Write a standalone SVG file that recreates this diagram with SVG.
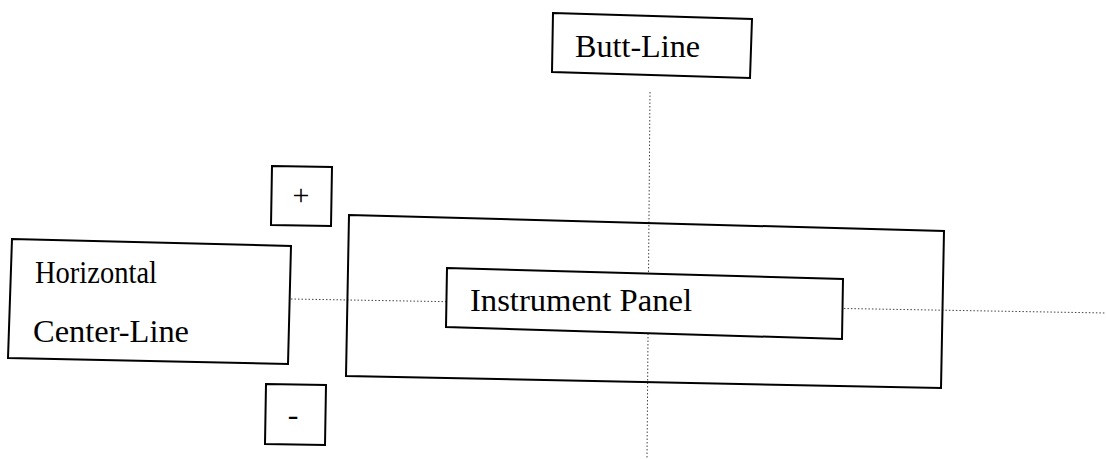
<svg xmlns="http://www.w3.org/2000/svg" width="1106" height="459" viewBox="0 0 1106 459">
<style>
.box{fill:none;stroke:#000;stroke-width:2}
.fbox{fill:#fff;stroke:#000;stroke-width:2}
.dot{stroke:#444;stroke-width:1;stroke-dasharray:1.5 2;fill:none}
.t{font-family:"Liberation Serif","Times New Roman",serif;font-size:31px;fill:#000}
</style>
<rect width="1106" height="459" fill="#fff"/>
<g id="connectors">
<line class="dot" x1="650" y1="92" x2="647" y2="459"/>
<line class="dot" x1="291" y1="299" x2="1106" y2="313"/>
</g>
<g id="outer-frame">
<polygon class="box" points="349,215 944,231 941,388 346,376"/>
</g>
<g id="instrument-panel">
<polygon class="fbox" points="447,268 843,279 842,339 446,327"/>
<text class="t" x="470" y="311" textLength="222" lengthAdjust="spacingAndGlyphs">Instrument Panel</text>
</g>
<g id="butt-line">
<polygon class="fbox" points="553,13 752,19 750,78 552,72"/>
<text class="t" x="575" y="57" textLength="125" lengthAdjust="spacingAndGlyphs">Butt-Line</text>
</g>
<g id="horizontal-center-line">
<polygon class="fbox" points="12,239 291,246 288,364 8,358"/>
<text class="t" x="35" y="283" textLength="122" lengthAdjust="spacingAndGlyphs">Horizontal</text>
<text class="t" x="33" y="342" textLength="156" lengthAdjust="spacingAndGlyphs">Center-Line</text>
</g>
<g id="plus">
<polygon class="fbox" points="272,166 332,167 331,226 271,225"/>
<text class="t" x="301" y="205" text-anchor="middle" style="font-size:30px">+</text>
</g>
<g id="minus">
<polygon class="fbox" points="266,384 326,385 325,445 265,444"/>
<text class="t" x="293" y="425" text-anchor="middle" style="font-size:32px">-</text>
</g>
</svg>
